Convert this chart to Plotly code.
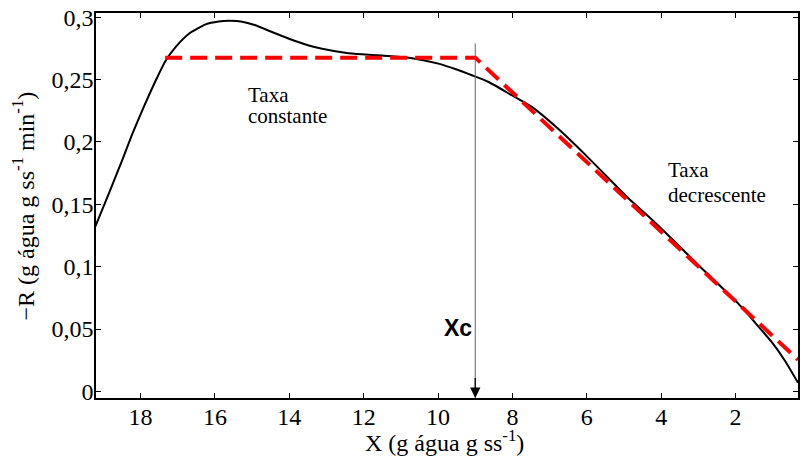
import plotly.graph_objects as go

# Measured curve (X in g água / g ss, -R in g água / g ss / min)
curve_x = [19.22, 18.85, 18.5, 18.22, 17.9, 17.59, 17.32, 17.06, 16.7, 16.25, 15.9, 15.62, 15.3,
           14.91, 14.5, 14.01, 13.5, 13.12, 12.5, 12.05, 11.5, 10.88, 10.4, 9.99, 9.5, 9.09,
           8.64, 8.02, 7.48, 6.77, 6.05, 5.42, 4.89, 4.26, 3.6, 3.01, 2.5, 1.93, 1.5, 1.04,
           0.68, 0.32]
curve_y = [0.132, 0.159, 0.185, 0.2067, 0.229, 0.2494, 0.2654, 0.276, 0.2867, 0.2942, 0.2965,
           0.297, 0.2965, 0.2935, 0.2885, 0.2827, 0.2775, 0.2747, 0.2715, 0.2702, 0.2692, 0.2678,
           0.2655, 0.2627, 0.258, 0.2534, 0.248, 0.2374, 0.228, 0.2105, 0.190, 0.171, 0.155,
           0.138, 0.119, 0.1015, 0.087, 0.0705, 0.056, 0.040, 0.025, 0.007]

# Piecewise fit (constant rate, then falling rate)
fit_x = [17.34, 9.0, 0.32]
fit_y = [0.2675, 0.2675, 0.0254]

xc_value = 9.0
xc_top = 0.28

x_tickvals = [18, 16, 14, 12, 10, 8, 6, 4, 2]
x_ticktext = ["18", "16", "14", "12", "10", "8", "6", "4", "2"]
y_tickvals = [0, 0.05, 0.1, 0.15, 0.2, 0.25, 0.3]
y_ticktext = ["0", "0,05", "0,1", "0,15", "0,2", "0,25", "0,3"]

x_title = "X (g água g ss<sup>-1</sup>)"
y_title = "\u2212R (g água g ss<sup>-1</sup> min<sup>-1</sup>)"

x_range = [19.2, 0.32]
y_range = [-0.0053, 0.3033]

serif = "Liberation Serif"

fig = go.Figure()
fig.add_trace(go.Scatter(x=curve_x, y=curve_y, mode="lines",
                         line=dict(color="black", width=2, shape="spline", smoothing=0.5),
                         showlegend=False, hoverinfo="skip"))
fig.add_trace(go.Scatter(x=fit_x, y=fit_y, mode="lines",
                         line=dict(color="#ff0000", width=4, dash="17px,8px"),
                         showlegend=False, hoverinfo="skip"))

# Xc vertical arrow
fig.add_annotation(x=xc_value, y=y_range[0], ax=xc_value, ay=xc_top, xref="x", yref="y",
                   axref="x", ayref="y", showarrow=True, arrowhead=0, arrowwidth=1,
                   arrowcolor="#666666", text="")
fig.add_annotation(x=xc_value, y=y_range[0], ax=xc_value, ay=0.012, xref="x", yref="y",
                   axref="x", ayref="y", showarrow=True, arrowhead=2, arrowsize=1.6,
                   arrowwidth=1.3, arrowcolor="black", text="")
fig.add_annotation(x=xc_value, y=0.051, xref="x", yref="y", text="<b>Xc</b>",
                   showarrow=False, xanchor="right", xshift=-1,
                   font=dict(family="Liberation Sans", size=23, color="black"))

label_font = dict(family=serif, size=21, color="black")
for txt, xx, yy in [("Taxa", 15.17, 0.2374), ("constante", 15.17, 0.2206),
                    ("Taxa", 3.87, 0.1774), ("decrescente", 3.87, 0.1574)]:
    fig.add_annotation(x=xx, y=yy, xref="x", yref="y", text=txt, showarrow=False,
                       xanchor="left", yanchor="middle", font=label_font)

# Axis titles
title_font = dict(family=serif, size=24, color="black")
fig.add_annotation(x=0.497, y=-0.112, xref="paper", yref="paper", text=x_title,
                   showarrow=False, xanchor="center", yanchor="middle", font=title_font)
fig.add_annotation(x=-0.104, y=0.5, xref="paper", yref="paper", text=y_title,
                   showarrow=False, xanchor="center", yanchor="middle", textangle=-90,
                   font=title_font)

axis_common = dict(showline=True, linecolor="black", mirror="ticks", ticks="inside",
                   ticklen=5, tickcolor="black", showgrid=False, zeroline=False,
                   tickfont=dict(family=serif, size=24, color="black"))

fig.update_xaxes(range=x_range, tickvals=x_tickvals, ticktext=x_ticktext, linewidth=2,
                 ticklabelstandoff=-4, **axis_common)
fig.update_yaxes(range=y_range, tickvals=y_tickvals, ticktext=y_ticktext, linewidth=1.5,
                 ticklabelstandoff=-4, **axis_common)

fig.update_layout(width=800, height=465, margin=dict(l=96, r=0, t=13, b=67),
                  plot_bgcolor="white", paper_bgcolor="white", showlegend=False,
                  font=dict(family=serif))

fig.write_html("out.html", config={"displayModeBar": False},
               post_script="document.body.style.margin='0';")
